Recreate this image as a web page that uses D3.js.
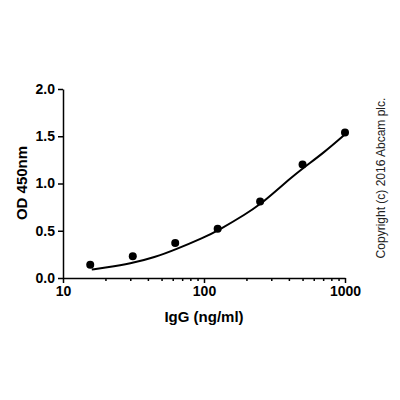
<!DOCTYPE html>
<html><head><meta charset="utf-8">
<script src="https://cdn.jsdelivr.net/npm/d3@7"></script>
<style>body{margin:0;background:#fff}</style>
</head><body><svg width="400" height="400"></svg>
<script>
// measured points
var conc = [15.6, 31.25, 62.5, 125, 250, 500, 1000];
var od = [0.14, 0.23, 0.37, 0.52, 0.81, 1.20, 1.54];
// fitted curve
var fitX = [16, 20, 30, 45, 62.5, 100, 125, 200, 250, 300, 400, 500, 700, 1000];
var fitY = [0.09, 0.11, 0.15, 0.22, 0.30, 0.43, 0.50, 0.68, 0.78, 0.88, 1.04, 1.16, 1.32, 1.52];
var yTicks = [0, 0.5, 1.0, 1.5, 2.0];
var xTicks = [10, 100, 1000];

var svg = d3.select("svg");
var x = d3.scaleLog().domain([10, 1000]).range([63, 345]);
var y = d3.scaleLinear().domain([0, 2]).range([278, 89]);

var minor = [];
[10, 100].forEach(function(b){ for (var i = 2; i <= 9; i++) minor.push(b * i); });

svg.append("g").attr("transform", "translate(0,278)")
  .call(d3.axisBottom(x).tickValues(xTicks).tickFormat(d3.format("d")).tickSize(5).tickSizeOuter(0));
svg.append("g").attr("transform", "translate(0,278)")
  .call(d3.axisBottom(x).tickValues(minor).tickFormat("").tickSize(3).tickSizeOuter(0))
  .select(".domain").remove();
svg.append("g").attr("transform", "translate(63,0)")
  .call(d3.axisLeft(y).tickValues(yTicks).tickFormat(d3.format(".1f")).tickSize(5).tickSizeOuter(0));
svg.selectAll(".tick line, .domain").attr("stroke", "#000").attr("stroke-width", 1.5);
svg.selectAll(".tick text").attr("font-family", "Arial, Liberation Sans, sans-serif")
  .attr("font-size", 14).attr("font-weight", "bold").attr("fill", "#000");

var line = d3.line().x(function(d){ return x(d[0]); }).y(function(d){ return y(d[1]); })
  .curve(d3.curveBasis);
svg.append("path").datum(d3.zip(fitX, fitY)).attr("d", line)
  .attr("fill", "none").attr("stroke", "#000").attr("stroke-width", 2);

svg.selectAll("circle.pt").data(d3.zip(conc, od)).enter().append("circle")
  .attr("cx", function(d){ return x(d[0]); }).attr("cy", function(d){ return y(d[1]); })
  .attr("r", 4).attr("fill", "#000");

svg.append("text").attr("x", 204).attr("y", 322).attr("text-anchor", "middle")
  .attr("font-family", "Arial, Liberation Sans, sans-serif").attr("font-size", 15).attr("font-weight", "bold")
  .text("IgG (ng/ml)");
svg.append("text").attr("transform", "translate(27,183) rotate(-90)").attr("text-anchor", "middle")
  .attr("font-family", "Arial, Liberation Sans, sans-serif").attr("font-size", 15).attr("font-weight", "bold")
  .text("OD 450nm");
svg.append("text").attr("transform", "translate(385,178) rotate(-90)").attr("text-anchor", "middle")
  .attr("font-family", "Arial, Liberation Sans, sans-serif").attr("font-size", 12).attr("fill", "#222")
  .text("Copyright (c) 2016 Abcam plc.");
</script></body></html>
